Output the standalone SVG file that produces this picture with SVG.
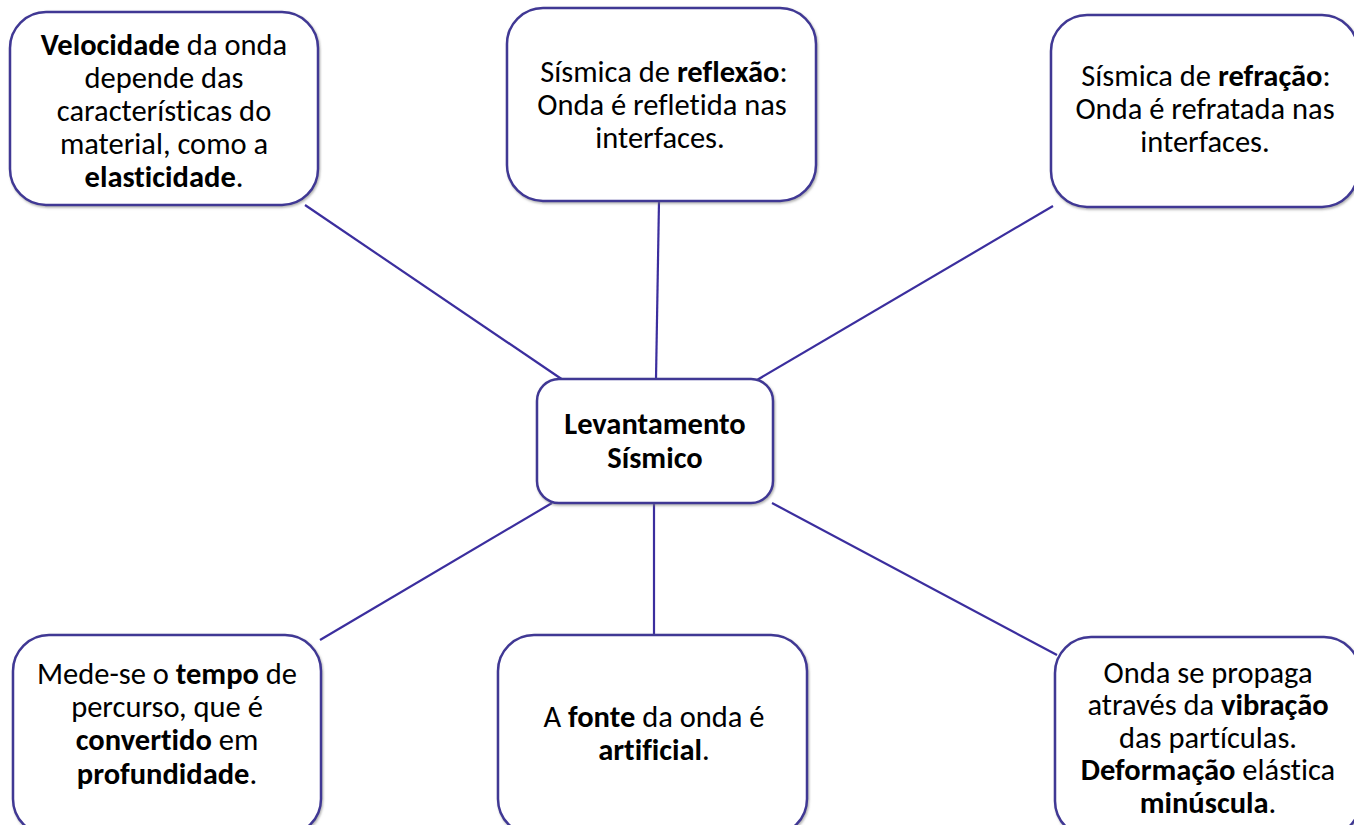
<svg xmlns="http://www.w3.org/2000/svg" width="1354" height="825" viewBox="0 0 1354 825">
<defs>
<filter id="sh" x="-5%" y="-5%" width="110%" height="110%">
<feDropShadow dx="1" dy="1.5" stdDeviation="1" flood-color="#7a7a7a" flood-opacity="0.6"/>
</filter>
<style>
.box{fill:#ffffff;stroke:#3f3794;stroke-width:2.5;filter:url(#sh)}
.conn line{stroke:#3b2e9e;stroke-width:2.2}
text{font-family:Carlito,Lato,"Open Sans",sans-serif;font-size:30.5px;fill:#000000;text-anchor:middle;font-variant-ligatures:none}
.b{font-weight:bold}
</style>
</defs>
<rect width="1354" height="825" fill="#ffffff"/>
<g id="connectors" class="conn">
<line x1="305" y1="205" x2="563" y2="380"/>
<line x1="659" y1="201" x2="656" y2="379"/>
<line x1="1053" y1="206" x2="757" y2="380"/>
<line x1="552" y1="503" x2="320" y2="640"/>
<line x1="654" y1="503" x2="654" y2="635"/>
<line x1="772" y1="503" x2="1057" y2="655"/>
</g>
<g id="n-velocidade">
<rect class="box" x="10" y="12" width="308" height="193" rx="36"/>
<text x="164" y="55"><tspan class="b">Velocidade</tspan> da onda</text>
<text x="164" y="88">depende das</text>
<text x="164" y="121">características do</text>
<text x="164" y="154">material, como a</text>
<text x="164" y="187"><tspan class="b">elasticidade</tspan>.</text>
</g>
<g id="n-reflexao">
<rect class="box" x="507" y="8" width="309" height="193" rx="36"/>
<text x="664" y="82">Sísmica de <tspan class="b">reflexão</tspan>:</text>
<text x="662" y="115">Onda é refletida nas</text>
<text x="660" y="148">interfaces.</text>
</g>
<g id="n-refracao">
<rect class="box" x="1051" y="15" width="307" height="192" rx="36"/>
<text x="1206" y="86">Sísmica de <tspan class="b">refração</tspan>:</text>
<text x="1205" y="119">Onda é refratada nas</text>
<text x="1205" y="152">interfaces.</text>
</g>
<g id="n-centro">
<rect class="box" x="537" y="379" width="236" height="124" rx="22"/>
<text class="b" x="655" y="434">Levantamento</text>
<text class="b" x="655" y="468">Sísmico</text>
</g>
<g id="n-tempo">
<rect class="box" x="13" y="635" width="308" height="200" rx="36"/>
<text x="167" y="684">Mede-se o <tspan class="b">tempo</tspan> de</text>
<text x="167" y="717">percurso, que é</text>
<text x="167" y="750"><tspan class="b">convertido</tspan> em</text>
<text x="167" y="784"><tspan class="b">profundidade</tspan>.</text>
</g>
<g id="n-fonte">
<rect class="box" x="498" y="635" width="309" height="200" rx="36"/>
<text x="654" y="727">A <tspan class="b">fonte</tspan> da onda é</text>
<text x="654" y="760"><tspan class="b">artificial</tspan>.</text>
</g>
<g id="n-onda">
<rect class="box" x="1055" y="637" width="305" height="200" rx="36"/>
<text x="1208" y="683">Onda se propaga</text>
<text x="1208" y="715">através da <tspan class="b">vibração</tspan></text>
<text x="1208" y="748">das partículas.</text>
<text x="1208" y="780"><tspan class="b">Deformação</tspan> elástica</text>
<text x="1208" y="813"><tspan class="b">minúscula</tspan>.</text>
</g>
</svg>
